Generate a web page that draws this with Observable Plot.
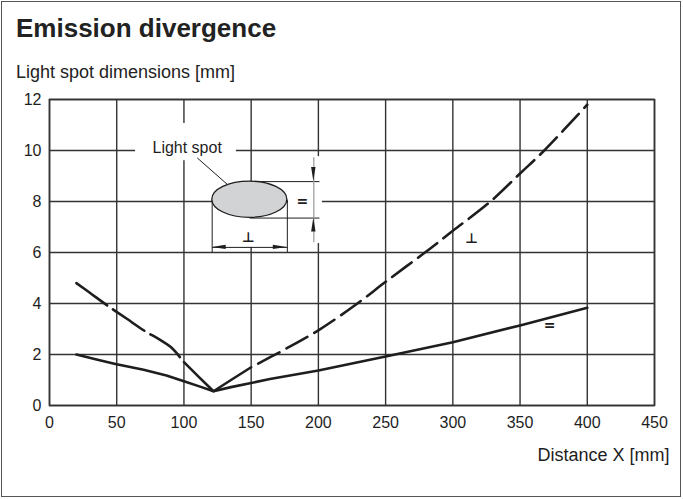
<!DOCTYPE html>
<html><head><meta charset="utf-8">
<script src="https://cdn.jsdelivr.net/npm/d3@7"></script>
<script src="https://cdn.jsdelivr.net/npm/@observablehq/plot@0.6"></script>
<style>
body{margin:0;background:#fff;}
#wrap{position:relative;width:683px;height:499px;overflow:hidden;font-family:"Liberation Sans",Arial,sans-serif;color:#222;}
#border{position:absolute;left:1px;top:1px;width:680px;height:496px;box-sizing:border-box;border:1.5px solid #555;}
#title{position:absolute;left:16px;top:15px;font-size:26px;line-height:26px;font-weight:bold;white-space:nowrap;}
#sub{position:absolute;left:16px;top:63px;font-size:18px;line-height:18px;white-space:nowrap;}
#chart{position:absolute;left:0;top:85px;}
</style>
</head><body>
<div id="wrap">
  <div id="border"></div>
  <div id="title">Emission divergence</div>
  <div id="sub">Light spot dimensions [mm]</div>
  <div id="chart"></div>
</div>
<script>
// ---- data ----
const xTicks = [0, 50, 100, 150, 200, 250, 300, 350, 400, 450];
const yTicks = [0, 2, 4, 6, 8, 10, 12];
const perpX = [20, 30, 43, 57, 70, 82, 90, 97, 100, 111, 122, 135, 150, 175, 200, 229, 250, 283, 300, 328, 350, 368, 400];
const perpY = [4.8, 4.42, 3.92, 3.42, 2.95, 2.58, 2.3, 1.9, 1.7, 1.12, 0.56, 1.0, 1.5, 2.2, 2.95, 4.0, 4.85, 6.15, 6.85, 8.0, 9.1, 10.0, 11.8];
const parX = [20, 35, 49, 70, 87, 100, 112, 122, 135, 150, 164, 200, 250, 300, 350, 400];
const parY = [2.0, 1.8, 1.63, 1.4, 1.18, 0.95, 0.74, 0.56, 0.72, 0.88, 1.04, 1.37, 1.92, 2.48, 3.14, 3.83];
const curveLabels = ["\u22A5", "="];
const curveLabelX = [314, 372];
const curveLabelY = [6.54, 3.14];

// ---- annotation (inset sketch, in data units) ----
const spot = {cx: 149, cy: 8.07, rx: 27.9, ry: 0.71};
const whiteBoxes = [
  {x1: 64, x2: 139, y1: 9.6, y2: 11.06},
  {x1: 177.8, x2: 203, y1: 6.35, y2: 9.76},
  {x1: 121, x2: 177, y1: 6.2, y2: 7.35}
];
const thinLines = [
  {x1: 109.9, y1: 9.71, x2: 145.8, y2: 8.04},   // leader
  {x1: 149, y1: 8.78, x2: 200.8, y2: 8.78},     // extension top
  {x1: 149, y1: 7.35, x2: 200.8, y2: 7.35},     // extension bottom
  {x1: 121, y1: 8.07, x2: 121, y2: 6.01},       // extension left
  {x1: 176.9, y1: 8.07, x2: 176.9, y2: 6.01},   // extension right
  {x1: 121, y1: 6.2, x2: 176.9, y2: 6.2}        // dimension horizontal
];
const grayLines = [{x1: 196.6, y1: 9.74, x2: 196.6, y2: 6.4}];
const tips = [
  {x: 121, y: 6.2, dir: "left"}, {x: 176.9, y: 6.2, dir: "right"},
  {x: 196.6, y: 8.78, dir: "down"}, {x: 196.6, y: 7.35, dir: "up"}
];
const annoTexts = [
  {x: 102.4, y: 10.12, t: "Light spot", font: "Liberation Sans", size: 16, weight: "normal"},
  {x: 188, y: 8.0, t: "=", font: "DejaVu Sans", size: 14, weight: "bold"},
  {x: 148, y: 6.6, t: "\u22A5", font: "DejaVu Sans", size: 14, weight: "bold"}
];

// ---- build ----
const perp = perpX.map((x, i) => ({x, y: perpY[i]}));
const par = parX.map((x, i) => ({x, y: parY[i]}));
const perpLeft = perp.filter(d => d.x <= 97);
const perpMid = perp.filter(d => d.x >= 100 && d.x <= 150);
const perpRight = perp.filter(d => d.x >= 150);
const labels = curveLabels.map((t, i) => ({t, x: curveLabelX[i], y: curveLabelY[i]}));
const ns = "http://www.w3.org/2000/svg";
const ink = "#1e1e1e";

function ellipseMark(index, scales) {
  const e = document.createElementNS(ns, "ellipse");
  const cx = scales.x(spot.cx), cy = scales.y(spot.cy);
  e.setAttribute("cx", cx);
  e.setAttribute("cy", cy);
  e.setAttribute("rx", scales.x(spot.cx + spot.rx) - cx);
  e.setAttribute("ry", cy - scales.y(spot.cy + spot.ry));
  e.setAttribute("fill", "#d2d3d5");
  e.setAttribute("stroke", ink);
  e.setAttribute("stroke-width", 1.3);
  return e;
}
const dirs = {left: [-1, 0], right: [1, 0], up: [0, -1], down: [0, 1]};
function arrowMark(index, scales) {
  const g = document.createElementNS(ns, "g");
  for (const t of tips) {
    const px = scales.x(t.x), py = scales.y(t.y);
    const [dx, dy] = dirs[t.dir];
    const L = 14, W = 2.2;
    const bx = px - dx * L, by = py - dy * L;
    const p = document.createElementNS(ns, "polygon");
    p.setAttribute("points", `${px},${py} ${bx - dy * W},${by + dx * W} ${bx + dy * W},${by - dx * W}`);
    p.setAttribute("fill", ink);
    g.appendChild(p);
  }
  return g;
}

const chart = Plot.plot({
  width: 683,
  height: 390,
  marginTop: 14,
  marginBottom: 70,
  marginLeft: 49,
  marginRight: 29,
  style: {fontFamily: "'Liberation Sans', Arial, sans-serif", fontSize: "16px", color: ink, background: "transparent"},
  x: {domain: [0, 450]},
  y: {domain: [0, 12]},
  marks: [
    Plot.gridX(xTicks, {stroke: "#333", strokeOpacity: 1, strokeWidth: 1.4}),
    Plot.gridY(yTicks, {stroke: "#333", strokeOpacity: 1, strokeWidth: 1.4}),
    Plot.rect(whiteBoxes, {x1: "x1", x2: "x2", y1: "y1", y2: "y2", fill: "white", inset: 0}),
    Plot.frame({stroke: "#333", strokeWidth: 1.6}),
    Plot.line(par, {x: "x", y: "y", stroke: ink, strokeWidth: 2.6}),
    Plot.line(perpLeft, {x: "x", y: "y", stroke: ink, strokeWidth: 2.6, strokeDasharray: "38,7", curve: "catmull-rom"}),
    Plot.line(perpMid, {x: "x", y: "y", stroke: ink, strokeWidth: 2.6}),
    Plot.line(perpRight, {x: "x", y: "y", stroke: ink, strokeWidth: 2.6, strokeDasharray: "24,8", strokeDashoffset: 24, curve: "catmull-rom"}),
    Plot.link(thinLines, {x1: "x1", y1: "y1", x2: "x2", y2: "y2", stroke: ink, strokeWidth: 1}),
    Plot.link(grayLines, {x1: "x1", y1: "y1", x2: "x2", y2: "y2", stroke: "#999", strokeWidth: 1.2}),
    ellipseMark,
    arrowMark,
    ...annoTexts.map(a => Plot.text([a], {x: "x", y: "y", text: "t", fontFamily: a.font, fontSize: a.size, fontWeight: a.weight, fill: ink})),
    Plot.text(labels, {x: "x", y: "y", text: "t", fontFamily: "DejaVu Sans", fontWeight: "bold", fontSize: 14, fill: ink}),
    Plot.axisX(xTicks, {tickSize: 0, tickPadding: 11, fontSize: 16, label: null}),
    Plot.axisY(yTicks, {tickSize: 0, tickPadding: 8, fontSize: 16, label: null}),
    Plot.text(["Distance X [mm]"], {text: d => d, frameAnchor: "bottom-right", dx: 15, dy: 50, textAnchor: "end", lineAnchor: "middle", fontSize: 18, fill: ink})
  ]
});
document.getElementById("chart").appendChild(chart);
</script>
</body></html>
